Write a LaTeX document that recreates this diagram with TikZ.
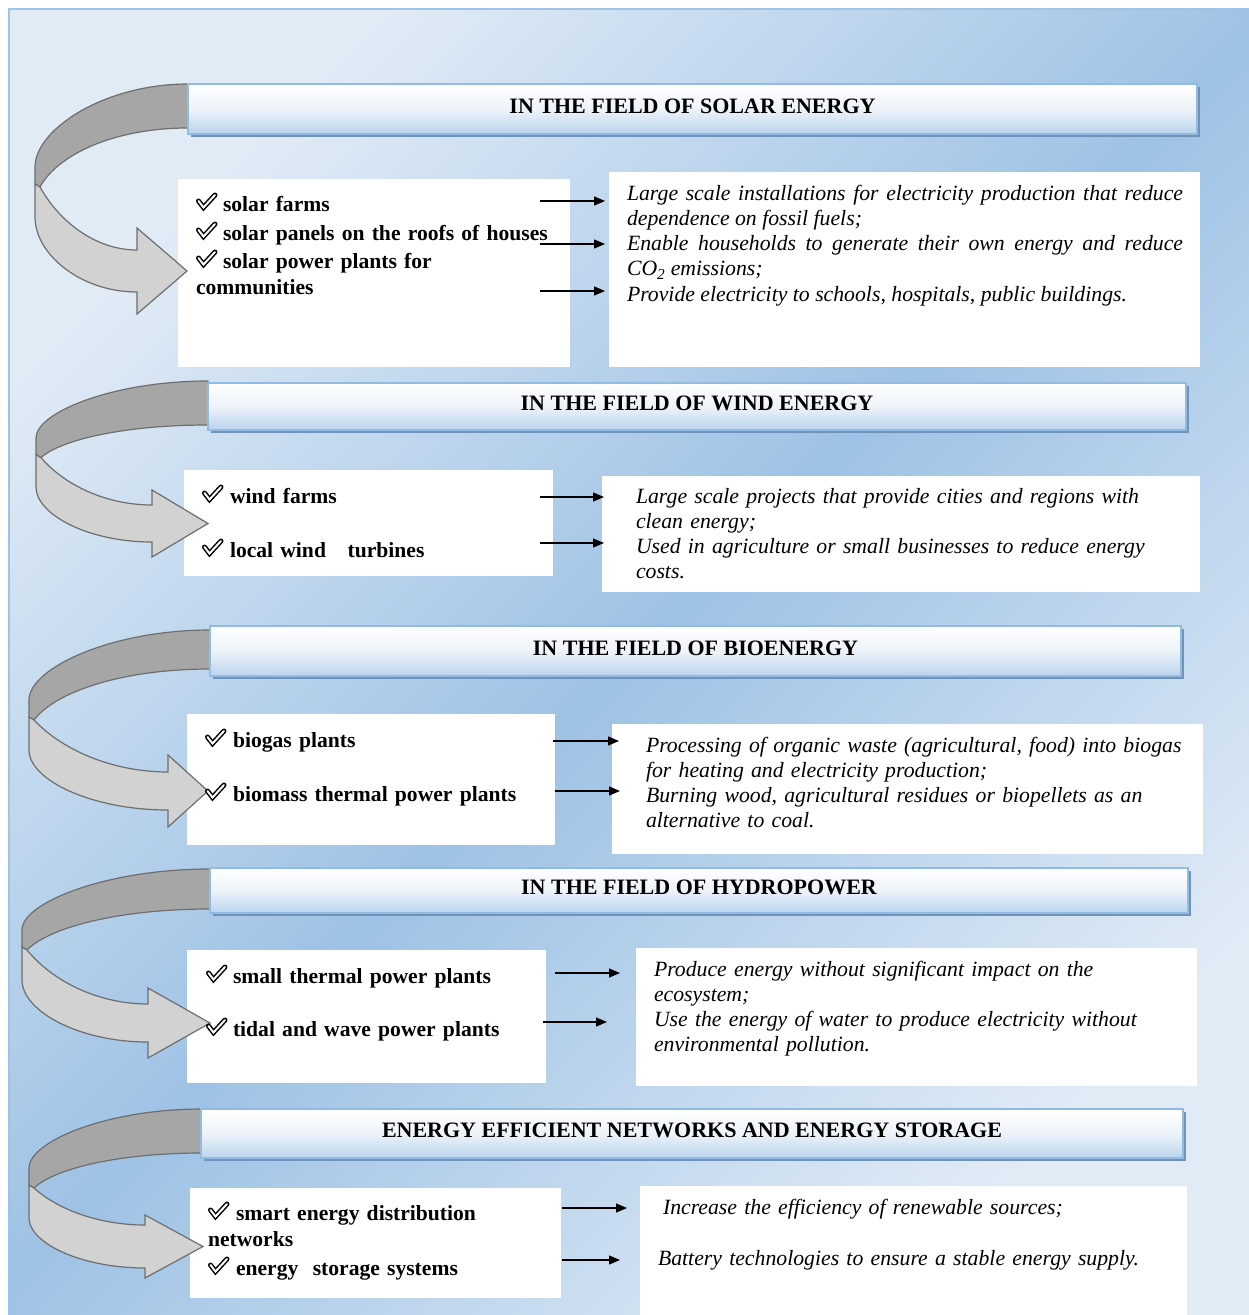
\documentclass[tikz,border=0pt]{standalone}
\usepackage{fontspec}
\setmainfont{Liberation Serif}
\usetikzlibrary{arrows.meta}

\definecolor{bgLight}{HTML}{E1EBF6}
\definecolor{bgBlue}{HTML}{9EC2E5}
\definecolor{frameBlue}{HTML}{9DC3E6}
\definecolor{hdrBot}{HTML}{BAD3ED}
\definecolor{hdrMid}{HTML}{EDF3FA}
\definecolor{hdrBorder}{HTML}{92BBE2}
\definecolor{hdrShadow}{HTML}{7093BB}
\definecolor{ribDark}{HTML}{A6A6A6}
\definecolor{ribLight}{HTML}{D2D2D2}
\definecolor{ribLine}{HTML}{6E6E6E}

\newcommand\hdrfont{\fontsize{22}{25}\selectfont\bfseries}
\newcommand\itemfont{\fontsize{21.6}{26}\selectfont\bfseries}
\newcommand\descfont{\fontsize{21.75}{25.3}\selectfont\itshape}

% title bar with drop shadow: name, x1, y1, x2, y2, text
\newcommand\hdr[6]{%
  \fill[hdrShadow] ({#2+3},{#3+3}) rectangle ({#4+3},{#5+3});
  \node[hdrbar, minimum width={#4-#2}, minimum height={#5-#3}] (#1)
    at ({(#2+#4)/2},{(#3+#5)/2}) {#6};}

% plain white panel: name, x1, y1, x2, y2
\newcommand\panel[5]{%
  \node[panelbox, minimum width={#4-#2}, minimum height={#5-#3}] (#1)
    at ({(#2+#4)/2},{(#3+#5)/2}) {};}

% curved ribbon arrow
\newcommand\ribbonhead[2]{\def\rhExt{#1}\def\rhTip{#2}}
% #1 end x, #2 top y, #3 inner y, #4 left x, #5/#6 left edge top/bottom,
% #7 arrow base x, #8/#9 shaft top/bottom at the base
\newcommand\ribbon[9]{%
  \pgfmathsetmacro\rJ{#5+0.4*(#6-#5)}%
  \pgfmathsetmacro\rLj{#4+5}%
  \pgfmathsetmacro\rHt{#8-\rhExt}%
  \pgfmathsetmacro\rHb{#9+\rhExt}%
  \pgfmathsetmacro\rTm{(#8+#9)/2}%
  \filldraw[ribback] (#1,#2)
    .. controls ({#1-0.55*(#1-#4)},#2) and (#4,{#2+0.55*(#5-#2)}) .. (#4,#5)
    -- (#4,{\rJ-3}) -- (\rLj,\rJ)
    .. controls ({\rLj+0.12*(#1-\rLj)},{\rJ-0.55*(\rJ-#3)}) and ({#1-0.5*(#1-\rLj)},#3) .. (#1,#3)
    -- cycle;
  \filldraw[ribfront] (#4,{\rJ-3}) -- (\rLj,\rJ)
    .. controls ({\rLj+0.22*(#7-\rLj)},{\rJ+0.6*(#8-\rJ)}) and ({#7-0.4*(#7-\rLj)},#8) .. (#7,#8)
    -- (#7,\rHt) -- (\rhTip,\rTm) -- (#7,\rHb) -- (#7,#9)
    .. controls ({#7-0.55*(#7-#4)},#9) and (#4,{#6+0.5*(#9-#6)}) .. (#4,#6)
    -- cycle;}

\begin{document}
\begin{tikzpicture}[x=1pt,y=-1pt,
  every node/.style={inner sep=0pt, outer sep=0pt},
  hdrbar/.style={draw=hdrBorder, line width=1.3pt, top color=white,
    bottom color=hdrBot, middle color=hdrMid, font=\hdrfont,
    text height=14.6pt, text depth=6pt},
  panelbox/.style={fill=white, draw=none},
  ribback/.style={fill=ribDark, draw=ribLine, line width=1.2pt, line join=round},
  ribfront/.style={fill=ribLight, draw=ribLine, line width=1.2pt, line join=miter},
  item/.style={anchor=base west, text width=380pt, align=left, font=\itemfont},
  desc/.style={anchor=base west, text width=560pt, align=left, font=\descfont},
  conn/.style={line width=1.3pt, -{Triangle[length=11pt,width=9pt]}},
  chk/.pic={\draw[line width=1.5pt, double=white, double distance=2pt,
    line cap=round, line join=miter] (2.5,-10) -- (7.5,-3.5) -- (19,-16);}]

\useasboundingbox (0,0) rectangle (1249,1315);
\fill[white] (0,0) rectangle (1249,1315);
\shade[top color=bgLight, bottom color=bgLight, middle color=bgBlue, shading angle=45]
  (8,8) rectangle (1249,1315);
\draw[frameBlue, line width=2.2pt] (9,1320) -- (9,9) -- (1255,9);

% white panels
\panel{l1}{178}{179}{570}{367}
\panel{r1}{609}{172}{1200}{367}
\panel{l2}{184}{470}{553}{576}
\panel{r2}{602}{476}{1200}{592}
\panel{l3}{187}{714}{555}{845}
\panel{r3}{612}{724}{1203}{854}
\panel{l4}{187}{950}{546}{1083}
\panel{r4}{636}{948}{1197}{1086}
\panel{l5}{190}{1188}{561}{1298}
\panel{r5}{640}{1186}{1187}{1322}

% curved ribbon arrows
\ribbonhead{22}{187}\ribbon{188}{84}{128}{35}{167}{217}{137}{250}{292}
\ribbonhead{15}{208}\ribbon{208}{381}{425}{36}{438}{487}{152}{505}{542}
\ribbonhead{17}{208}\ribbon{210}{630}{669}{29}{700}{750}{168}{772}{810}
\ribbonhead{16}{210}\ribbon{210}{869}{909}{22}{930}{980}{148}{1004}{1042}
\ribbonhead{10}{203}\ribbon{202}{1109}{1153}{29}{1168}{1218}{145}{1225}{1268}

% title bars
\hdr{h1}{188}{84}{1197}{134}{IN THE FIELD OF SOLAR ENERGY}
\hdr{h2}{208}{383}{1186}{430}{IN THE FIELD OF WIND ENERGY}
\hdr{h3}{210}{626}{1181}{676}{IN THE FIELD OF BIOENERGY}
\hdr{h4}{210}{868}{1188}{913}{IN THE FIELD OF HYDROPOWER}
\hdr{h5}{201}{1109}{1183}{1158}{ENERGY EFFICIENT NETWORKS AND ENERGY STORAGE}

% list items
\node[item] (i11) at (196,211) {\hspace*{27pt}solar farms};
\node[item] (i12) at (196,240) {\hspace*{27pt}solar panels on the roofs of houses};
\node[item] (i13) at (196,268) {\hspace*{27pt}solar power plants for\\communities};
\node[item] (i21) at (202,503) {\hspace*{28pt}wind farms};
\node[item] (i22) at (202,557) {\hspace*{28pt}local wind~~~turbines};
\node[item] (i31) at (205,747) {\hspace*{28pt}biogas plants};
\node[item] (i32) at (205,801) {\hspace*{28pt}biomass thermal power plants};
\node[item] (i41) at (206,983) {\hspace*{27pt}small thermal power plants};
\node[item] (i42) at (206,1036) {\hspace*{27pt}tidal and wave power plants};
\node[item] (i51) at (208,1220) {\hspace*{28pt}smart energy distribution\\networks};
\node[item] (i52) at (208,1275) {\hspace*{28pt}energy~~storage systems};

\foreach \n in {i11,i12,i13,i21,i22,i31,i32,i41,i42,i51,i52}
  \pic at (\n.base west) {chk};

% descriptions
\node[desc, text width=556pt, align=justify] (t1) at (627,200)
  {Large scale installations for electricity production that reduce\linebreak
   dependence on fossil fuels;\par
   Enable households to generate their own energy and reduce\linebreak
   CO\textsubscript{2} emissions;\par
   Provide electricity to schools, hospitals, public buildings.};
\node[desc] (t2) at (636,503)
  {Large scale projects that provide cities and regions with\\
   clean energy;\\
   Used in agriculture or small businesses to reduce energy\\
   costs.};
\node[desc] (t3) at (646,752)
  {Processing of organic waste (agricultural, food) into biogas\\
   for heating and electricity production;\\
   Burning wood, agricultural residues or biopellets as an\\
   alternative to coal.};
\node[desc] (t4) at (654,976)
  {Produce energy without significant impact on the\\
   ecosystem;\\
   Use the energy of water to produce electricity without\\
   environmental pollution.};
\node[desc] (t5a) at (663,1214) {Increase the efficiency of renewable sources;};
\node[desc] (t5b) at (658,1265) {Battery technologies to ensure a stable energy supply.};

% connectors
\coordinate (a11) at (540,201); \coordinate (b11) at (605,201);
\coordinate (a12) at (540,244); \coordinate (b12) at (605,244);
\coordinate (a13) at (540,291); \coordinate (b13) at (605,291);
\coordinate (a21) at (540,497); \coordinate (b21) at (604,497);
\coordinate (a22) at (540,543); \coordinate (b22) at (604,543);
\coordinate (a31) at (553,741); \coordinate (b31) at (619,741);
\coordinate (a32) at (555,791); \coordinate (b32) at (620,791);
\coordinate (a41) at (555,973); \coordinate (b41) at (620,973);
\coordinate (a42) at (543,1022); \coordinate (b42) at (607,1022);
\coordinate (a51) at (562,1208); \coordinate (b51) at (627,1208);
\coordinate (a52) at (562,1260); \coordinate (b52) at (620,1260);
\foreach \k in {11,12,13,21,22,31,32,41,42,51,52}
  \draw[conn] (a\k) -- (b\k);
\end{tikzpicture}
\end{document}
